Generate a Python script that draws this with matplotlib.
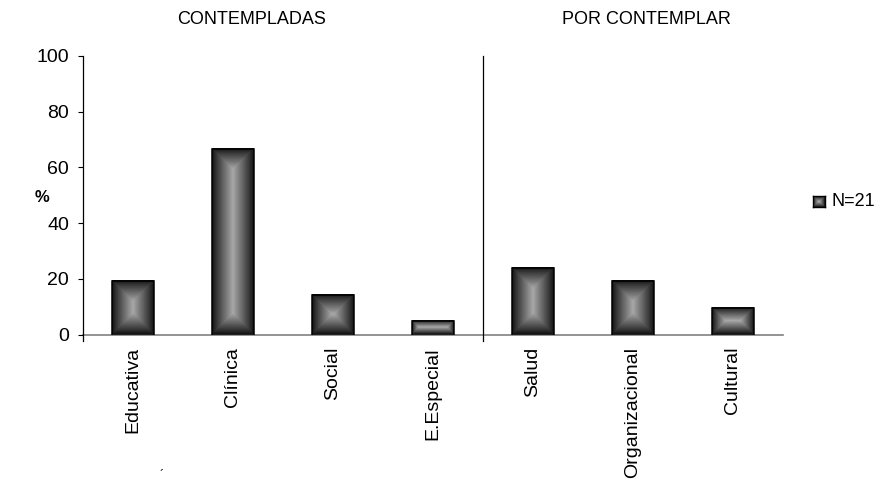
import numpy as np
import matplotlib.pyplot as plt
from matplotlib.colors import LinearSegmentedColormap

plt.rcParams['font.family'] = ['Liberation Sans', 'DejaVu Sans']

# areas de la psicologia, % sobre N=21
categorias = ['Educativa', 'Clínica', 'Social', 'E.Especial',
              'Salud', 'Organizacional', 'Cultural']
porcentajes = [19.05, 66.67, 14.29, 4.76, 23.81, 19.05, 9.52]
grupos = ['CONTEMPLADAS', 'POR CONTEMPLAR']
serie = 'N=21'

W, H = 879, 486
cmap = LinearSegmentedColormap.from_list('gris', [(0, '#111111'), (0.2, '#333333'), (1, '#a8a8a8')])


def degradado(w_px, h_px):
    # relleno "desde el centro": oscuro en los bordes, claro en el centro
    nx = max(int(round(w_px)), 2)
    ny = max(int(round(h_px)), 2)
    xs = np.arange(nx) + 0.5
    ys = np.arange(ny) + 0.5
    dx = np.minimum(xs, nx - xs)
    dy = np.minimum(ys, ny - ys)
    d = np.minimum(dx[None, :], dy[:, None])
    return d / (min(nx, ny) / 2.0)


fig = plt.figure(figsize=(W / 100, H / 100), dpi=100)
ax = fig.add_axes([83 / W, 151.5 / H, 700 / W, 278.5 / H])
ax.set_xlim(-0.5, len(categorias) - 0.5)
ax.set_ylim(0, 100)

ancho = 0.42
px_x = 700 / len(categorias)
px_y = 278.5 / 100
for i, v in enumerate(porcentajes):
    img = degradado(ancho * px_x, v * px_y)
    ax.imshow(img, cmap=cmap, vmin=0, vmax=1, origin='lower', aspect='auto',
              extent=[i - ancho / 2, i + ancho / 2, 0, v], interpolation='bilinear', zorder=2)
ax.bar(range(len(categorias)), porcentajes, width=ancho, facecolor='none',
       edgecolor='black', linewidth=1.1, zorder=3)

ax.set_xticks(range(len(categorias)))
ax.set_xticklabels(categorias, rotation=90, fontsize=14)
ax.tick_params(axis='x', length=0, pad=9)
ax.set_yticks(range(0, 101, 20))
ax.tick_params(axis='y', direction='out', length=3.6, width=0.8, pad=6.5, labelsize=14)

for s in ['top', 'right', 'left']:
    ax.spines[s].set_visible(False)
ax.spines['bottom'].set_color('#808080')
ax.spines['bottom'].set_linewidth(1.2)
ax.spines['bottom'].set_zorder(1)
ax.axvline(-0.5, ymin=-0.022, ymax=1, color='black', lw=0.9, clip_on=False)
ax.axvline(3.5, ymin=-0.022, ymax=1, color='black', lw=0.9, clip_on=False)

fig.text(252 / W, 1 - 20 / H, grupos[0], ha='center', va='center', fontsize=13)
fig.text(646 / W, 1 - 20 / H, grupos[1], ha='center', va='center', fontsize=13)
fig.text(42 / W, 1 - 197 / H, '%', ha='center', va='center', fontsize=12, fontweight='bold')

# leyenda
lax = fig.add_axes([813 / W, (H - 207) / H, 12 / W, 11 / H])
lax.imshow(degradado(12, 11), cmap=cmap, vmin=0, vmax=1, aspect='auto', interpolation='bilinear')
lax.set_xticks([])
lax.set_yticks([])
for s in lax.spines.values():
    s.set_linewidth(1)
fig.text(832 / W, 1 - 201 / H, serie, ha='left', va='center', fontsize=13)

fig.text(162 / W, 1 - 476 / H, '´', ha='center', va='center', fontsize=9)

fig.savefig('out.png', dpi=100)
